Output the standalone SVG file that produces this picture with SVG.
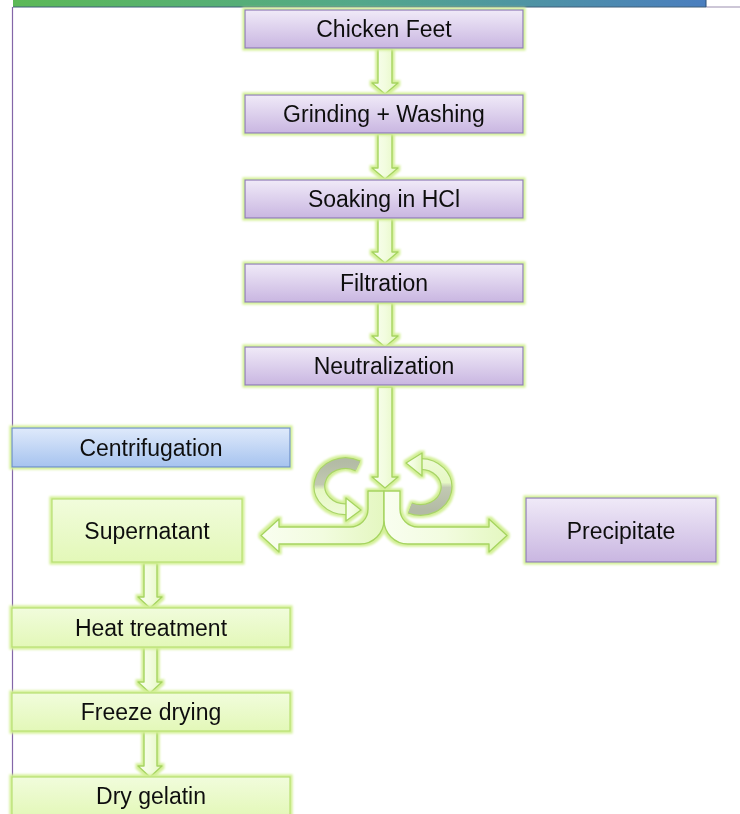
<svg xmlns="http://www.w3.org/2000/svg" width="740" height="814" viewBox="0 0 740 814">
<defs>
<linearGradient id="hdr" x1="0" y1="0" x2="1" y2="0">
<stop offset="0" stop-color="#5cb957"/><stop offset="0.5" stop-color="#53a88a"/><stop offset="1" stop-color="#4a7ebf"/>
</linearGradient>
<linearGradient id="purp" x1="0" y1="0" x2="0" y2="1">
<stop offset="0" stop-color="#f0eaf8"/><stop offset="1" stop-color="#c9b6e1"/>
</linearGradient>
<linearGradient id="blue" x1="0" y1="0" x2="0" y2="1">
<stop offset="0" stop-color="#dfeafb"/><stop offset="1" stop-color="#a6c3ef"/>
</linearGradient>
<linearGradient id="lime" x1="0" y1="0" x2="0" y2="1">
<stop offset="0" stop-color="#f1fcdc"/><stop offset="1" stop-color="#e3f8b8"/>
</linearGradient>
<linearGradient id="arr" x1="0" y1="0" x2="1" y2="0">
<stop offset="0" stop-color="#f9fef0"/><stop offset="0.5" stop-color="#f2fcdf"/><stop offset="1" stop-color="#e4f7c0"/>
</linearGradient>
<linearGradient id="rotL" gradientUnits="userSpaceOnUse" x1="0" y1="462" x2="0" y2="512">
<stop offset="0" stop-color="#b3bba5"/><stop offset="0.45" stop-color="#c2c9b2"/><stop offset="0.55" stop-color="#e6f8c4"/><stop offset="1" stop-color="#eefad6"/>
</linearGradient>
<linearGradient id="rotR" gradientUnits="userSpaceOnUse" x1="0" y1="460" x2="0" y2="510">
<stop offset="0" stop-color="#eefad6"/><stop offset="0.45" stop-color="#e6f8c4"/><stop offset="0.55" stop-color="#c2c9b2"/><stop offset="1" stop-color="#b3bba5"/>
</linearGradient>
<filter id="glow" x="-20%" y="-20%" width="140%" height="140%">
<feMorphology in="SourceAlpha" operator="dilate" radius="1.5" result="d"/>
<feGaussianBlur in="d" stdDeviation="1" result="b"/>
<feFlood flood-color="#d3f096"/>
<feComposite in2="b" operator="in" result="g"/>
<feMerge><feMergeNode in="g"/><feMergeNode in="SourceGraphic"/></feMerge>
</filter>
</defs>
<style>
.t{font-family:"Liberation Sans",Arial,sans-serif;font-size:23px;fill:#111;text-anchor:middle}
.p{fill:url(#purp);stroke:#8f7bb8;stroke-width:1.2}
.b{fill:url(#blue);stroke:#6b8ec8;stroke-width:1.2}
.g{fill:url(#lime);stroke:#b7df72;stroke-width:1.2}
.a{fill:url(#arr);stroke:#a6d460;stroke-width:1.4;stroke-linejoin:round}
</style>
<rect width="740" height="814" fill="#ffffff"/>
<!-- header -->
<rect x="13" y="0" width="693" height="7" fill="url(#hdr)"/>
<line x1="13" y1="7" x2="706" y2="7" stroke="#3f5f7a" stroke-width="1"/>
<line x1="706" y1="7" x2="740" y2="7" stroke="#9c8fb0" stroke-width="1.2"/>
<line x1="706" y1="0" x2="706" y2="7" stroke="#2d4f73" stroke-width="1"/>
<line x1="12.5" y1="7" x2="12.5" y2="814" stroke="#8466a8" stroke-width="1.2"/>

<g id="connectors" filter="url(#glow)">
<path class="a" d="M378 49 H392 V83 H398 L385 94 L372 83 H378 Z"/>
<path class="a" d="M378 134 H392 V168 H398 L385 179 L372 168 H378 Z"/>
<path class="a" d="M378 219 H392 V252 H398 L385 263 L372 252 H378 Z"/>
<path class="a" d="M378 303 H392 V336 H398 L385 347 L372 336 H378 Z"/>
<path class="a" d="M378 387 H392 V477 H398 L385 488 L372 477 H378 Z"/>
<path class="a" d="M368 491 L384 491 L384 520 A24 24 0 0 1 360 544 L279 544 L279 552 L261 535.5 L279 519 L279 527 L350 527 A18 18 0 0 0 368 509 Z"/>
<path class="a" d="M400 491 L384 491 L384 520 A24 24 0 0 0 408 544 L489 544 L489 552 L507 535.5 L489 519 L489 527 L418 527 A18 18 0 0 1 400 509 Z"/>
<path class="a" d="M144 563 H157 V597 H162 L150 608 L138 597 H144 Z"/>
<path class="a" d="M144 647 H157 V682 H162 L150 693 L138 682 H144 Z"/>
<path class="a" d="M144 731 H157 V766 H162 L150 777 L138 766 H144 Z"/>
<!-- rotation arrows -->
<path d="M358 466 A26 23 0 1 0 348 509" fill="none" stroke="#a9d468" stroke-width="12"/>
<path d="M358 466 A26 23 0 1 0 348 509" fill="none" stroke="url(#rotL)" stroke-width="9.5"/>
<path class="a" d="M346 498 L361 510 L346 521 Z"/>
<path d="M410 508 A26 23 0 1 0 419 464" fill="none" stroke="#a9d468" stroke-width="12"/>
<path d="M410 508 A26 23 0 1 0 419 464" fill="none" stroke="url(#rotR)" stroke-width="9.5"/>
<path class="a" d="M422 453 L406 463 L422 476 Z"/>
</g>

<g id="n1" filter="url(#glow)"><rect class="p" x="245" y="10" width="278" height="38"/><text class="t" x="384" y="37">Chicken Feet</text></g>
<g id="n2" filter="url(#glow)"><rect class="p" x="245" y="95" width="278" height="38"/><text class="t" x="384" y="122">Grinding + Washing</text></g>
<g id="n3" filter="url(#glow)"><rect class="p" x="245" y="180" width="278" height="38"/><text class="t" x="384" y="207">Soaking in HCl</text></g>
<g id="n4" filter="url(#glow)"><rect class="p" x="245" y="264" width="278" height="38"/><text class="t" x="384" y="291">Filtration</text></g>
<g id="n5" filter="url(#glow)"><rect class="p" x="245" y="347" width="278" height="38"/><text class="t" x="384" y="374">Neutralization</text></g>
<g id="n6" filter="url(#glow)"><rect class="b" x="12" y="428" width="278" height="39"/><text class="t" x="151" y="455.5">Centrifugation</text></g>
<g id="n7" filter="url(#glow)"><rect class="g" x="52" y="499" width="190" height="63"/><text class="t" x="147" y="538.5">Supernatant</text></g>
<g id="n8" filter="url(#glow)"><rect class="p" x="526" y="498" width="190" height="64"/><text class="t" x="621" y="538.5">Precipitate</text></g>
<g id="n9" filter="url(#glow)"><rect class="g" x="12" y="608" width="278" height="39"/><text class="t" x="151" y="635.5">Heat treatment</text></g>
<g id="n10" filter="url(#glow)"><rect class="g" x="12" y="693" width="278" height="38"/><text class="t" x="151" y="720">Freeze drying</text></g>
<g id="n11" filter="url(#glow)"><rect class="g" x="12" y="777" width="278" height="40"/><text class="t" x="151" y="803.5">Dry gelatin</text></g>
</svg>
